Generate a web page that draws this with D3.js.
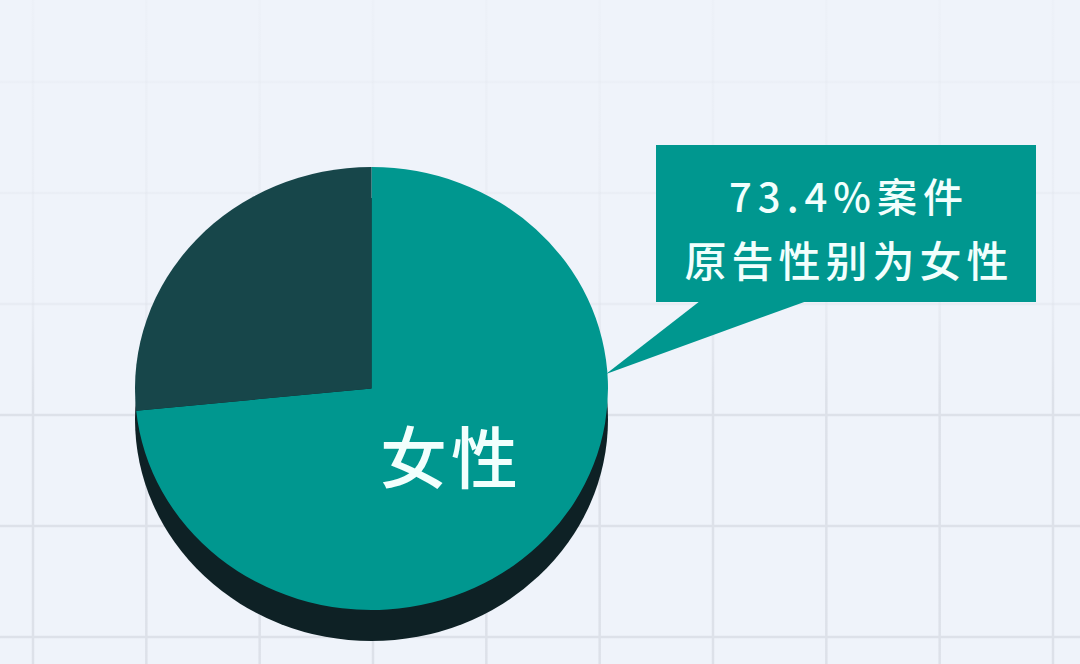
<!DOCTYPE html>
<html><head><meta charset="utf-8">
<script src="https://cdn.jsdelivr.net/npm/d3@7"></script>
<style>
html,body{margin:0;padding:0;background:#eff3fa;}
svg{display:block;}
text{font-family:"Noto Sans CJK SC","Noto Sans",sans-serif;}
</style></head>
<body>
<svg id="chart" width="1080" height="664"></svg>
<script>
const categories = ["女性", "男性"];
const values = [73.4, 26.6];
const calloutLines = ["73.4%案件", "原告性别为女性"];
const sliceColors = ["#00978f", "#17464a"];

const W = 1080, H = 664;
const svg = d3.select("#chart");
svg.append("rect").attr("width", W).attr("height", H).attr("fill", "#eff3fa");

// grid with fading toward top
const defs = svg.append("defs");
const g1 = defs.append("linearGradient").attr("id", "gridFade")
  .attr("gradientUnits", "userSpaceOnUse").attr("x1", 0).attr("y1", 0).attr("x2", 0).attr("y2", H);
g1.append("stop").attr("offset", "0").attr("stop-color", "#dde1e9").attr("stop-opacity", 0.12);
g1.append("stop").attr("offset", "0.45").attr("stop-color", "#dde1e9").attr("stop-opacity", 0.35);
g1.append("stop").attr("offset", "0.6").attr("stop-color", "#dde1e9").attr("stop-opacity", 1);
g1.append("stop").attr("offset", "1").attr("stop-color", "#dde1e9").attr("stop-opacity", 1);

const gx = d3.scaleLinear().domain([0, 9]).range([33, 1053]);
const gy = d3.scaleLinear().domain([0, 5]).range([637, 82]);
const grid = svg.append("g").attr("stroke", "url(#gridFade)").attr("stroke-width", 2.5);
grid.selectAll("line.v").data(d3.range(10)).join("line")
  .attr("x1", d => gx(d)).attr("x2", d => gx(d)).attr("y1", 0).attr("y2", H);
grid.selectAll("line.h").data(d3.range(6)).join("line")
  .attr("x1", 0).attr("x2", W).attr("y1", d => gy(d)).attr("y2", d => gy(d));

// pie
const cx = 371.5, cy = 388.5, rx = 236.5, ry = 221.5, depth = 31;
const pie = d3.pie().sort(null).value(d => d)(values);
const arc = d3.arc().innerRadius(0).outerRadius(rx);

// extrusion / shadow
svg.append("ellipse").attr("cx", cx).attr("cy", cy + depth).attr("rx", rx).attr("ry", ry)
  .attr("fill", "#0e2125");

const pg = svg.append("g").attr("transform", `translate(${cx},${cy}) scale(1,${ry / rx})`);
pg.selectAll("path").data(pie).join("path")
  .attr("d", arc)
  .attr("fill", (d, i) => sliceColors[i]);

// label inside female slice
svg.append("text")
  .attr("x", 451).attr("y", 453)
  .attr("text-anchor", "middle").attr("dominant-baseline", "central")
  .attr("font-size", 67).attr("letter-spacing", 4).attr("font-weight", 500)
  .attr("fill", "#f2fffd")
  .text(categories[0]);

// callout box
const bx = 656, by = 145, bw = 380, bh = 157;
const tip = [606, 374];
svg.append("path")
  .attr("d", d3.line()([[700, by + bh - 1], [807, by + bh - 1], tip]) + "Z")
  .attr("fill", "#00978f");
svg.append("rect").attr("x", bx).attr("y", by).attr("width", bw).attr("height", bh)
  .attr("fill", "#00978f");

svg.selectAll("text.call").data(calloutLines).join("text")
  .attr("class", "call")
  .attr("x", (d, i) => i === 0 ? 849 : 849)
  .attr("y", (d, i) => i === 0 ? 195 : 258)
  .attr("text-anchor", "middle").attr("dominant-baseline", "central")
  .attr("font-size", (d, i) => i === 0 ? 40 : 42)
  .attr("letter-spacing", (d, i) => i === 0 ? 6 : 5)
  .attr("font-weight", 500)
  .attr("fill", "#f2fffd")
  .text(d => d);
</script>
</body></html>
